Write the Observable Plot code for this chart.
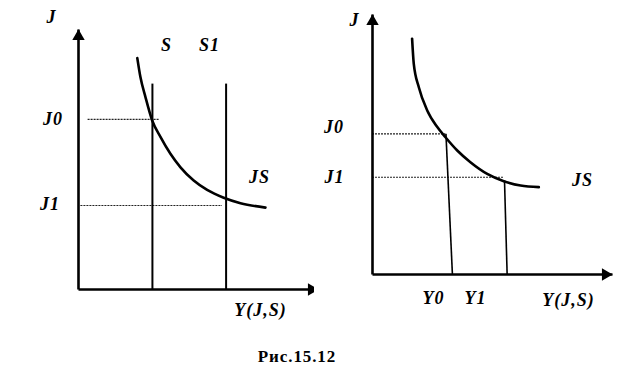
<!DOCTYPE html>
<html><head><meta charset="utf-8">
<script src="https://cdn.jsdelivr.net/npm/d3@7"></script>
<script src="https://cdn.jsdelivr.net/npm/@observablehq/plot@0.6"></script>
<style>
body{margin:0;background:#fff;width:628px;height:387px;position:relative;overflow:hidden;font-family:"Liberation Serif","Times New Roman",serif}
#left{position:absolute;left:0;top:0}
#right{position:absolute;left:314px;top:0}
#cap{position:absolute;left:0;width:594px;top:347px;text-align:center;font-weight:bold;font-size:17px;letter-spacing:0.9px;color:#000}
</style></head><body>
<div id="left"></div><div id="right"></div><div id="cap">Рис.15.12</div>
<script>
const axisMax = 10;

// ---- Left panel ----
const leftCurve = [
  {x:2.45,y:8.90},{x:2.58,y:8.17},{x:2.79,y:7.40},{x:3.07,y:6.50},{x:3.42,y:5.86},{x:3.83,y:5.22},
  {x:4.25,y:4.70},{x:4.80,y:4.19},{x:5.36,y:3.83},{x:6.05,y:3.53},{x:6.75,y:3.32},{x:7.79,y:3.15}
];
const leftSupply = [{x:3.08, top:7.9}, {x:6.15, top:7.9}];
const leftLevels = [{y:6.54, x0:0.4, x1:3.4}, {y:3.23, x0:0.1, x1:6.0}];
const leftLabels = [
  {t:"J", x:-1.12, y:10.46}, {t:"J0", x:-1.06, y:6.54}, {t:"J1", x:-1.19, y:3.27},
  {t:"S", x:3.67, y:9.38}, {t:"S1", x:5.46, y:9.38}, {t:"JS", x:7.54, y:4.31},
  {t:"Y(J,S)", x:7.58, y:-0.8}
];

// ---- Right panel ----
const rightCurve = [
  {x:1.65,y:9.07},{x:1.72,y:8.10},{x:1.93,y:7.20},{x:2.28,y:6.31},{x:2.70,y:5.67},{x:3.04,y:5.28},
  {x:3.53,y:4.77},{x:4.08,y:4.32},{x:4.78,y:3.87},{x:5.47,y:3.59},{x:6.17,y:3.42},{x:6.93,y:3.36}
];
const rightLevels = [{y:5.41, x0:0, x1:3.06}, {y:3.74, x0:0, x1:5.5}];
const rightDrops = [{x1:3.06, y1:5.41, x2:3.33, y2:0}, {x1:5.5, y1:3.62, x2:5.61, y2:0}];
const rightLabels = [
  {t:"J", x:-0.75, y:9.77}, {t:"J0", x:-1.6, y:5.65}, {t:"J1", x:-1.58, y:3.73},
  {t:"JS", x:8.75, y:3.62}, {t:"Y0", x:2.54, y:-0.92}, {t:"Y1", x:4.29, y:-0.92},
  {t:"Y(J,S)", x:8.17, y:-1.0}
];

const txt = {fontFamily:"Liberation Serif, Times New Roman, serif", fontWeight:"bold", fontStyle:"italic", fontSize:18, fill:"#000"};

function axes() {
  return [
    Plot.link([{a:0, b:0, c:0, d:axisMax}], {x1:"a", y1:"b", x2:"c", y2:"d", stroke:"#000", strokeWidth:2.6, strokeLinecap:"butt"}),
    Plot.link([{a:0, b:0, c:axisMax, d:0}], {x1:"a", y1:"b", x2:"c", y2:"d", stroke:"#000", strokeWidth:2.6, strokeLinecap:"butt"}),
    Plot.dot([{x:0, y:axisMax}], {x:"x", y:"y", symbol:"triangle", r:4.6, fill:"#000", stroke:null, dy:7}),
    Plot.dot([{x:axisMax, y:0}], {x:"x", y:"y", symbol:"triangle", r:4.6, fill:"#000", stroke:null, rotate:90, dx:-7})
  ];
}

const left = Plot.plot({
  width:314, height:330,
  x:{domain:[0,axisMax], range:[78,318], axis:null},
  y:{domain:[0,axisMax], range:[289,29], axis:null},
  marks:[
    Plot.ruleY(leftLevels, {y:"y", x1:"x0", x2:"x1", stroke:"#222", strokeWidth:1.2, strokeDasharray:"2,1"}),
    Plot.ruleX(leftSupply, {x:"x", y1:() => 0, y2:"top", stroke:"#000", strokeWidth:2}),
    Plot.line(leftCurve, {x:"x", y:"y", curve:"monotone-x", stroke:"#000", strokeWidth:2.6}),
    ...axes(),
    Plot.text(leftLabels, {x:"x", y:"y", text:"t", ...txt})
  ]
});
document.getElementById("left").append(left);

const right = Plot.plot({
  width:314, height:330,
  x:{domain:[0,axisMax], range:[58,298], axis:null},
  y:{domain:[0,axisMax], range:[274,14], axis:null},
  marks:[
    Plot.ruleY(rightLevels, {y:"y", x1:"x0", x2:"x1", stroke:"#222", strokeWidth:1.2, strokeDasharray:"2,1"}),
    Plot.link(rightDrops, {x1:"x1", y1:"y1", x2:"x2", y2:"y2", stroke:"#000", strokeWidth:1.6}),
    Plot.line(rightCurve, {x:"x", y:"y", curve:"monotone-x", stroke:"#000", strokeWidth:2.6}),
    ...axes(),
    Plot.text(rightLabels, {x:"x", y:"y", text:"t", ...txt})
  ]
});
document.getElementById("right").append(right);

d3.selectAll("svg text").attr("letter-spacing", "1px");
</script>
</body></html>
